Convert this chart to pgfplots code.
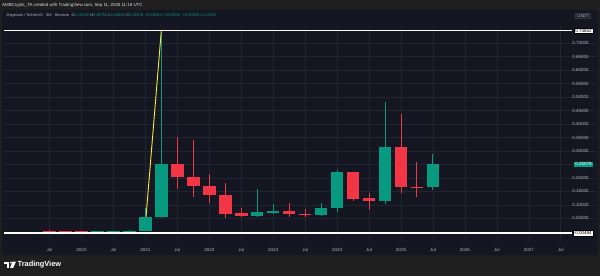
\documentclass[border=0pt]{standalone}
\usepackage{fontspec}
\setmainfont{Liberation Sans}
\usepackage{pgfplots}
\usepackage{pgfplotstable}
\pgfplotsset{compat=1.18}
\definecolor{outerbg}{RGB}{31,31,31}
\definecolor{panel}{RGB}{20,23,34}
\definecolor{gridc}{RGB}{33,37,49}
\definecolor{txt}{RGB}{178,181,190}
\definecolor{up}{RGB}{8,153,129}
\definecolor{down}{RGB}{242,54,69}
\definecolor{yel}{RGB}{255,235,59}
\definecolor{boxbg}{RGB}{30,34,45}

% 3M candles: t = quarter start (decimal year), o h l c
\pgfplotstableread{
t o h l c
2020.25 0.0018 0.0030 0.0017 0.0025
2020.50 0.0025 0.0042 0.0024 0.0026
2020.75 0.0026 0.0058 0.0024 0.0047
2021.00 0.0047 0.0870 0.0045 0.0540
2021.25 0.0540 0.7376 0.0520 0.2520
2022.75 0.0600 0.1590 0.0560 0.0720
2023.00 0.0710 0.1030 0.0650 0.0770
2023.75 0.0613 0.1080 0.0590 0.0895
2024.00 0.0895 0.2290 0.0750 0.2210
2024.75 0.1130 0.4820 0.1020 0.3160
2025.50 0.16518 0.2875 0.15655 0.25079
}\upcandles

\pgfplotstableread{
t o h l c
2019.50 0.0044 0.0050 0.0022 0.0025
2019.75 0.0025 0.0031 0.0019 0.0020
2020.00 0.0020 0.0030 0.0011 0.0018
2021.50 0.2520 0.3510 0.1600 0.2030
2021.75 0.2030 0.3400 0.1300 0.1700
2022.00 0.1700 0.2150 0.1060 0.1380
2022.25 0.1380 0.1800 0.0500 0.0670
2022.50 0.0680 0.0895 0.0560 0.0600
2023.25 0.0770 0.1060 0.0540 0.0670
2023.50 0.0670 0.0830 0.0560 0.0610
2024.25 0.2210 0.2220 0.1155 0.1230
2024.50 0.1240 0.1430 0.0810 0.1130
2025.00 0.3160 0.4360 0.1430 0.1650
2025.25 0.1670 0.2600 0.1300 0.1630
}\downcandles

\begin{document}
\begin{tikzpicture}[x=1pt,y=1pt]
\useasboundingbox (0,0) rectangle (600,276);
\fill[outerbg] (0,0) rectangle (600,276);
\fill[panel, rounded corners=3pt] (2,21) rectangle (598,266);

% top credit line
\node[anchor=west, inner sep=0pt, text=white!88!black, font=\fontsize{4.4}{5}\selectfont] at (2,270.7)
  {AMBCrypto\_TA created with TradingView.com, Sep 11, 2025 11:18 UTC};

\begin{axis}[
  at={(4pt,34pt)}, anchor=south west,
  scale only axis, width=593pt, height=216pt,
  xmin=2018.7872, xmax=2028.0673,
  ymin=-0.03786, ymax=0.76392,
  axis line style={draw=none},
  major tick length=0pt,
  grid=major,
  major grid style={draw=gridc, line width=0.6pt},
  xtick={2019.5,2020,2020.5,2021,2021.5,2022,2022.5,2023,2023.5,2024,2024.5,2025,2025.5,2026,2026.5,2027,2027.5},
  xticklabels={Jul,2020,Jul,2021,Jul,2022,Jul,2023,Jul,2024,Jul,2025,Jul,2026,Jul,2027,Jul},
  xticklabel style={anchor=center, yshift=-7.6pt, text=txt, font=\fontsize{4.5}{5}\selectfont},
  ytick={0.05,0.1,0.15,0.2,0.25,0.3,0.35,0.4,0.45,0.5,0.55,0.6,0.65,0.7},
  yticklabels={0.05000,0.10000,0.15000,0.20000,,0.30000,0.35000,0.40000,0.45000,0.50000,0.55000,0.60000,0.65000,0.70000},
  yticklabel pos=right,
  yticklabel style={anchor=east, xshift=-4.8pt, text=txt, font=\fontsize{4.5}{5}\selectfont},
  /pgf/number format/assume math mode=true,
  clip=false,
]
% horizontal white lines
\addplot[white, line width=1.3pt] coordinates {(2018.7872,0.74652) (2027.676,0.74652)};
\addplot[white, line width=1.3pt] coordinates {(2018.7872,-0.00484) (2027.676,-0.00484)};

% wicks
\addplot[up, draw=none, mark=none, error bars/.cd, y dir=plus, y explicit, error mark=none,
  error bar style={color=up, draw=up, line width=1pt}]
  table[x=t, y=l, y error plus expr=\thisrow{h}-\thisrow{l}] {\upcandles};
\addplot[down, draw=none, mark=none, error bars/.cd, y dir=plus, y explicit, error mark=none,
  error bar style={color=down, draw=down, line width=1pt}]
  table[x=t, y=l, y error plus expr=\thisrow{h}-\thisrow{l}] {\downcandles};
% bodies
\addplot[up, draw=none, mark=none, error bars/.cd, y dir=plus, y explicit, error mark=none,
  error bar style={color=up, draw=up, line width=12.5pt}]
  table[x=t, y=o, y error plus expr=\thisrow{c}-\thisrow{o}] {\upcandles};
\addplot[down, draw=none, mark=none, error bars/.cd, y dir=plus, y explicit, error mark=none,
  error bar style={color=down, draw=down, line width=12.5pt}]
  table[x=t, y=c, y error plus expr=\thisrow{o}-\thisrow{c}] {\downcandles};

% yellow trend line
\addplot[yel, line width=0.9pt] coordinates {(2021.01,0.056) (2021.249,0.7465)};

% price-scale labels
\node[anchor=east, fill=white, draw=black, line width=0.4pt, inner sep=1.1pt, text=black,
  font=\fontsize{4.5}{5}\selectfont] at (axis cs:2028.0047,0.74652) {0.74652};
\node[anchor=east, fill=white, draw=black, line width=0.4pt, inner sep=1.1pt, text=black,
  font=\fontsize{4.5}{5}\selectfont] at (axis cs:2028.0047,-0.00484) {-0.00484};
\node[anchor=east, fill=up, inner sep=1.1pt, text=white,
  font=\fontsize{4.5}{5}\selectfont] at (axis cs:2028.0047,0.25079) {0.25079};
\end{axis}

% symbol header
\node[anchor=west, inner sep=0pt, font=\fontsize{3.9}{5}\selectfont] at (6.5,261)
  {\textcolor{txt}{Dogecoin / TetherUS · 3M · Binance}\hspace{2.5pt}%
   \textcolor{txt}{O}\textcolor{up}{0.16518}\hspace{1.5pt}%
   \textcolor{txt}{H}\textcolor{up}{0.28750}\hspace{1.5pt}%
   \textcolor{txt}{L}\textcolor{up}{0.15655}\hspace{1.5pt}%
   \textcolor{txt}{C}\textcolor{up}{0.25079}\hspace{1.5pt}%
   \textcolor{up}{+0.08561 (+51.83\%)}\hspace{2.5pt}%
   \textcolor{up}{+0.00543 (+2.21\%)}};

% USDT box
\node[fill=boxbg, draw=gridc!60!txt, line width=0.3pt, rounded corners=1pt, inner xsep=2pt, inner ysep=1.2pt,
  text=txt, font=\fontsize{4.2}{5}\selectfont] at (583,260) {USDT};

% TradingView logo
\fill[white] (3.5,14.5) rectangle (9,12.3);
\fill[white] (6.5,12.3) rectangle (9,8.2);
\fill[white] (11,13.4) circle (1.1);
\fill[white] (12.6,14.5) -- (16,14.5) -- (13.2,8.2) -- (10,8.2) -- cycle;
\node[anchor=west, inner sep=0pt, text=white, font=\fontsize{7.4}{8}\selectfont\bfseries] at (17.5,11.3) {TradingView};
\end{tikzpicture}
\end{document}
